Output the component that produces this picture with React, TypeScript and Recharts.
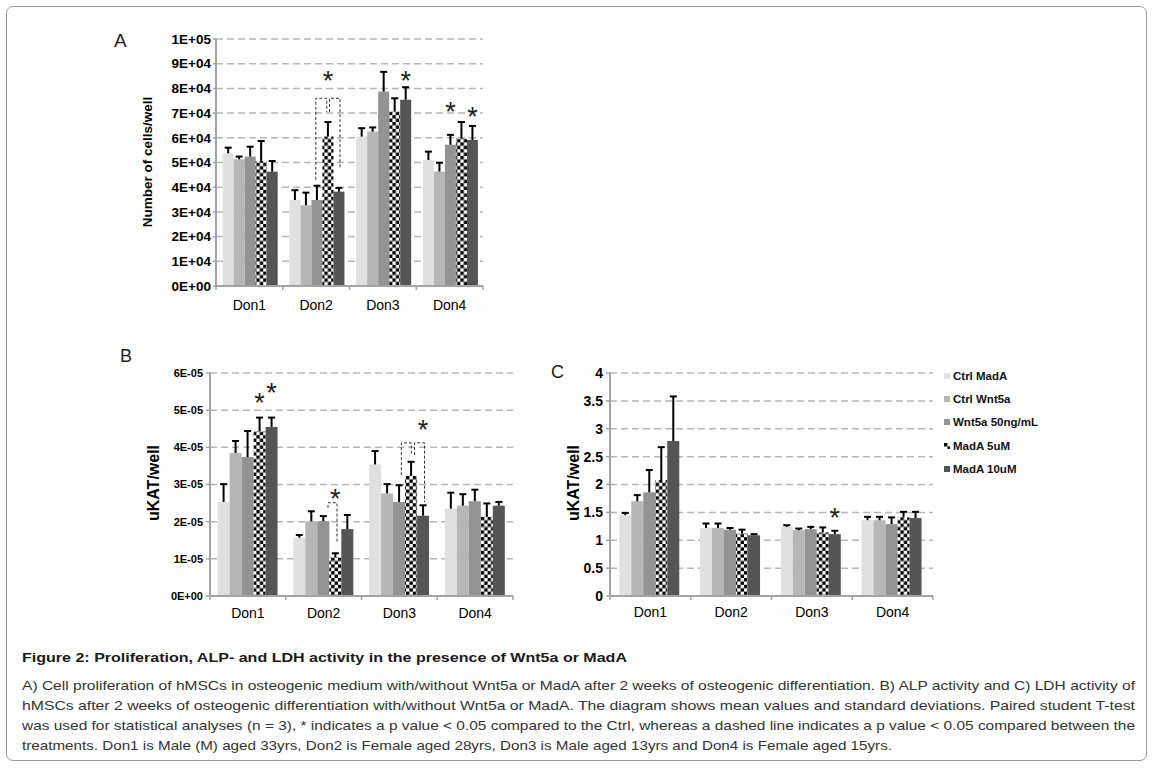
import React from 'react';
import { BarChart, Bar, XAxis, YAxis, CartesianGrid } from 'recharts';

const FONT = '"Liberation Sans", Arial, Helvetica, sans-serif';
const AXIS = '#a3a3a3';
const GRID = '#b5b5b5';

const categories = ['Don1', 'Don2', 'Don3', 'Don4'];
const seriesNames = ['Ctrl MadA', 'Ctrl Wnt5a', 'Wnt5a 50ng/mL', 'MadA 5uM', 'MadA 10uM'];
const seriesFills = ['#e0e0e0', '#b6b6b6', '#939393', 'url(#checker)', '#555555'];

// Panel A: Number of cells/well (mean, SD)
const cellsCtrlMadA = [53700, 34800, 60500, 51000];
const cellsCtrlWnt5a = [51300, 32700, 62500, 46300];
const cellsWnt5a50 = [52400, 34800, 78700, 57200];
const cellsMadA5 = [50600, 60500, 70600, 59800];
const cellsMadA10 = [46300, 38200, 75400, 59100];
const cellsCtrlMadASd = [2300, 4000, 3400, 3400];
const cellsCtrlWnt5aSd = [1100, 5100, 1700, 3600];
const cellsWnt5a50Sd = [4000, 5800, 8000, 4000];
const cellsMadA5Sd = [8100, 5900, 5400, 6600];
const cellsMadA10Sd = [4300, 1500, 5100, 5700];
const cellsTicks = [0, 10000, 20000, 30000, 40000, 50000, 60000, 70000, 80000, 90000, 100000];

// Panel B: ALP activity uKAT/well
const alpCtrlMadA = [2.53e-5, 1.57e-5, 3.54e-5, 2.35e-5];
const alpCtrlWnt5a = [3.85e-5, 2.01e-5, 2.76e-5, 2.43e-5];
const alpWnt5a50 = [3.74e-5, 2.01e-5, 2.53e-5, 2.55e-5];
const alpMadA5 = [4.43e-5, 1.04e-5, 3.23e-5, 2.13e-5];
const alpMadA10 = [4.55e-5, 1.8e-5, 2.16e-5, 2.43e-5];
const alpCtrlMadASd = [0.48e-5, 0.07e-5, 0.36e-5, 0.43e-5];
const alpCtrlWnt5aSd = [0.32e-5, 0.27e-5, 0.25e-5, 0.31e-5];
const alpWnt5a50Sd = [0.7e-5, 0.14e-5, 0.45e-5, 0.31e-5];
const alpMadA5Sd = [0.37e-5, 0.11e-5, 0.38e-5, 0.36e-5];
const alpMadA10Sd = [0.25e-5, 0.38e-5, 0.28e-5, 0.1e-5];
const alpTicks = [0, 1e-5, 2e-5, 3e-5, 4e-5, 5e-5, 6e-5];

// Panel C: LDH activity uKAT/well
const ldhCtrlMadA = [1.45, 1.22, 1.24, 1.36];
const ldhCtrlWnt5a = [1.7, 1.22, 1.18, 1.36];
const ldhWnt5a50 = [1.86, 1.19, 1.2, 1.29];
const ldhMadA5 = [2.08, 1.12, 1.14, 1.41];
const ldhMadA10 = [2.78, 1.09, 1.11, 1.4];
const ldhCtrlMadASd = [0.04, 0.08, 0.03, 0.06];
const ldhCtrlWnt5aSd = [0.11, 0.08, 0.03, 0.06];
const ldhWnt5a50Sd = [0.4, 0.03, 0.04, 0.12];
const ldhMadA5Sd = [0.59, 0.07, 0.09, 0.1];
const ldhMadA10Sd = [0.8, 0.02, 0.06, 0.11];
const ldhTicks = [0, 0.5, 1, 1.5, 2, 2.5, 3, 3.5, 4];

// significance marks: [category index, bar index, value]
const starsA = [[1, 3, 85500], [2, 4, 85500], [3, 2, 73300], [3, 4, 71000]];
const starsB = [[0, 3, 5.36e-5], [0, 4, 5.63e-5], [1, 3, 2.8e-5], [2, 4, 4.65e-5]];
const starsC = [[2, 4, 1.51]];
// dashed brackets: [category, from bar, to bar, top value, left end value, right end value]
const bracketsA = [[1, 1.9, 2.9, 76000, 43000, 70500], [1, 3.15, 4.1, 76000, 70500, 47600]];
const bracketsB = [[1, 2.39, 3.14, 2.51e-5, 2.37e-5, 1.46e-5], [2, 2.19, 3.02, 4.12e-5, 3.25e-5, 3.79e-5], [2, 3.29, 4.12, 4.12e-5, 3.79e-5, 2.53e-5]];
const bracketsC: number[][] = [];

function buildRows(means: number[][], sds: number[][]) {
  return categories.map((c, i) => {
    const r: any = { name: c };
    means.forEach((m, k) => {
      r['m' + k] = m[i];
      r['e' + k] = sds[k][i];
    });
    return r;
  });
}

const rowsA = buildRows(
  [cellsCtrlMadA, cellsCtrlWnt5a, cellsWnt5a50, cellsMadA5, cellsMadA10],
  [cellsCtrlMadASd, cellsCtrlWnt5aSd, cellsWnt5a50Sd, cellsMadA5Sd, cellsMadA10Sd]
);
const rowsB = buildRows(
  [alpCtrlMadA, alpCtrlWnt5a, alpWnt5a50, alpMadA5, alpMadA10],
  [alpCtrlMadASd, alpCtrlWnt5aSd, alpWnt5a50Sd, alpMadA5Sd, alpMadA10Sd]
);
const rowsC = buildRows(
  [ldhCtrlMadA, ldhCtrlWnt5a, ldhWnt5a50, ldhMadA5, ldhMadA10],
  [ldhCtrlMadASd, ldhCtrlWnt5aSd, ldhWnt5a50Sd, ldhMadA5Sd, ldhMadA10Sd]
);

const sci = (v: number) => {
  if (v === 0) return '0E+00';
  const e = Math.floor(Math.log10(v) + 1e-9);
  const m = Math.round(v / Math.pow(10, e));
  return `${m}E${e < 0 ? '-' : '+'}${String(Math.abs(e)).padStart(2, '0')}`;
};
const plain = (v: number) => String(v);

type PanelCfg = {
  left: number; top: number; width: number; height: number;
  margin: { top: number; right: number; bottom: number; left: number };
  yAxisWidth: number; rows: any[]; domain: [number, number]; ticks: number[];
  fmt: (v: number) => string; tickFont: number; tickSize: number; tickMargin: number;
  stars: number[][]; brackets: number[][]; labelOffset: number; gap: string;
};

function makeShape(k: number, cfg: PanelCfg) {
  const n = seriesNames.length;
  return (props: any) => {
    const { x, y, width, height, fill, payload, index } = props;
    const v = payload['m' + k];
    const sd = payload['e' + k];
    const ppu = height / v;
    const base = y + height;
    const toY = (val: number) => base - val * ppu;
    const cx = x + width / 2;
    const eTop = toY(v + sd);
    const extras: any[] = [];
    if (k === n - 1) {
      const center = (b: number) => x + width * (b - (n - 1)) + width / 2;
      cfg.brackets.filter((b) => b[0] === index).forEach((b, j) => {
        const lx = center(b[1]);
        const rx = center(b[2]);
        const ty = toY(b[3]);
        extras.push(
          <path key={'b' + j} d={`M${lx},${toY(b[4])}L${lx},${ty}L${rx},${ty}L${rx},${toY(b[5])}`}
            fill="none" stroke="#333" strokeWidth={1} strokeDasharray="3 2" />
        );
      });
      cfg.stars.filter((s) => s[0] === index).forEach((s, j) => {
        const fs = 27;
        extras.push(
          <text key={'s' + j} x={center(s[1])} y={toY(s[2]) + fs * 0.58} textAnchor="middle"
            fontSize={fs} fontFamily={FONT} fill="#222">*</text>
        );
      });
    }
    return (
      <g>
        <rect x={x} y={y} width={width} height={height} fill={fill} />
        <line x1={cx} y1={y} x2={cx} y2={eTop} stroke="#000" strokeWidth={2} />
        <line x1={cx - 3.5} x2={cx + 3.5} y1={eTop} y2={eTop} stroke="#000" strokeWidth={2} />
        {extras}
      </g>
    );
  };
}

function Panel({ cfg }: { cfg: PanelCfg }) {
  const plotW = cfg.width - cfg.margin.left - cfg.margin.right - cfg.yAxisWidth;
  const plotBottom = cfg.height - cfg.margin.bottom - 30;
  const band = plotW / categories.length;
  const renderTick = (props: any) => {
    const { x, payload, index } = props;
    return (
      <g>
        <line x1={x - band / 2} x2={x - band / 2} y1={plotBottom} y2={plotBottom + 4} stroke={AXIS} strokeWidth={1.5} />
        {index === categories.length - 1 && (
          <line x1={x + band / 2} x2={x + band / 2} y1={plotBottom} y2={plotBottom + 4} stroke={AXIS} strokeWidth={1.5} />
        )}
        <text x={x} y={plotBottom + cfg.labelOffset} textAnchor="middle" fontSize={14} fontFamily={FONT} fill="#000">
          {payload.value}
        </text>
      </g>
    );
  };
  return (
    <div style={{ position: 'absolute', left: cfg.left, top: cfg.top }}>
      <BarChart width={cfg.width} height={cfg.height} data={cfg.rows} margin={cfg.margin} barGap={0} barCategoryGap={cfg.gap}>
        <CartesianGrid vertical={false} stroke={GRID} strokeDasharray="7 4" strokeWidth={1.5} />
        <XAxis dataKey="name" height={30} axisLine={{ stroke: AXIS, strokeWidth: 2 }} tickLine={false} tick={renderTick} interval={0} />
        <YAxis width={cfg.yAxisWidth} domain={cfg.domain} ticks={cfg.ticks} tickFormatter={cfg.fmt} interval={0}
          axisLine={{ stroke: AXIS, strokeWidth: 2 }} tickLine={{ stroke: AXIS, strokeWidth: 1.5 }}
          tickSize={cfg.tickSize} tickMargin={cfg.tickMargin}
          tick={{ fill: '#000', fontSize: cfg.tickFont, fontWeight: 700, fontFamily: FONT }} />
        {seriesNames.map((name, k) => (
          <Bar key={name} name={name} dataKey={'m' + k} fill={seriesFills[k]} isAnimationActive={false} shape={makeShape(k, cfg)} />
        ))}
      </BarChart>
    </div>
  );
}

const cfgA: PanelCfg = {
  left: 100, top: 20, width: 400, height: 310, margin: { top: 19, right: 17, bottom: 14, left: 66 },
  yAxisWidth: 50, rows: rowsA, domain: [0, 100000], ticks: cellsTicks, fmt: sci, tickFont: 13.5,
  tickSize: 3, tickMargin: 2, stars: starsA, brackets: bracketsA, labelOffset: 24, gap: '10%',
};
const cfgB: PanelCfg = {
  left: 100, top: 340, width: 420, height: 300, margin: { top: 33, right: 7, bottom: 14, left: 60 },
  yAxisWidth: 50, rows: rowsB, domain: [0, 6e-5], ticks: alpTicks, fmt: sci, tickFont: 11,
  tickSize: 4, tickMargin: 3, stars: starsB, brackets: bracketsB, labelOffset: 22, gap: '10%',
};
const cfgC: PanelCfg = {
  left: 540, top: 340, width: 410, height: 300, margin: { top: 33, right: 17, bottom: 14, left: 30 },
  yAxisWidth: 40, rows: rowsC, domain: [0, 4], ticks: ldhTicks, fmt: plain, tickFont: 14,
  tickSize: 4, tickMargin: 3, stars: starsC, brackets: bracketsC, labelOffset: 21, gap: '11.5%',
};

const captionTitle = 'Figure 2: Proliferation, ALP- and LDH activity in the presence of Wnt5a or MadA';
const captionLines = [
  'A) Cell proliferation of hMSCs in osteogenic medium with/without Wnt5a or MadA after 2 weeks of osteogenic differentiation. B) ALP activity and C) LDH activity of',
  'hMSCs after 2 weeks of osteogenic differentiation with/without Wnt5a or MadA. The diagram shows mean values and standard deviations. Paired student T-test',
  'was used for statistical analyses (n = 3), * indicates a p value < 0.05 compared to the Ctrl, whereas a dashed line indicates a p value < 0.05 compared between the',
  'treatments. Don1 is Male (M) aged 33yrs, Don2 is Female aged 28yrs, Don3 is Male aged 13yrs and Don4 is Female aged 15yrs.',
];
const captionLineWidths = [1113, 1113, 1113, 870];

export default function App() {
  return (
    <div style={{ position: 'absolute', left: 0, top: 0, width: 1154, height: 769, background: '#fff', fontFamily: FONT, overflow: 'hidden' }}>
      <svg width={0} height={0} style={{ position: 'absolute' }}>
        <defs>
          <pattern id="checker" width={6.8} height={6.8} patternUnits="userSpaceOnUse">
            <rect width={6.8} height={6.8} fill="#fff" />
            <rect width={3.4} height={3.4} fill="#000" />
            <rect x={3.4} y={3.4} width={3.4} height={3.4} fill="#000" />
          </pattern>
        </defs>
      </svg>
      <div style={{ position: 'absolute', left: 6, top: 6, width: 1141, height: 755, border: '1px solid #9a9a9a', borderRadius: 7, boxSizing: 'border-box' }} />

      <svg width={1154} height={769} style={{ position: 'absolute', left: 0, top: 0 }}>
        <text x={114} y={47} fontSize={19} fontFamily={FONT} fill="#222">A</text>
        <text x={120} y={362} fontSize={18} fontFamily={FONT} fill="#222">B</text>
        <text x={551} y={378} fontSize={18} fontFamily={FONT} fill="#222">C</text>
        <text transform="translate(152,162) rotate(-90)" textAnchor="middle" fontSize={13.5} fontWeight={700} fontFamily={FONT} fill="#000">Number of cells/well</text>
        <text transform="translate(159,483) rotate(-90)" textAnchor="middle" fontSize={16} fontWeight={700} fontFamily={FONT} fill="#000">uKAT/well</text>
        <text transform="translate(579,483) rotate(-90)" textAnchor="middle" fontSize={16} fontWeight={700} fontFamily={FONT} fill="#000">uKAT/well</text>

        <text x={22} y={661.5} fontSize={13} fontWeight={700} fontFamily={FONT} fill="#1a1a1a"
          textLength={605} lengthAdjust="spacingAndGlyphs">{captionTitle}</text>
        {captionLines.map((line, i) => (
          <text key={i} x={22} y={689.5 + 20 * i} fontSize={13} fontFamily={FONT} fill="#333"
            textLength={captionLineWidths[i]} lengthAdjust="spacingAndGlyphs">{line}</text>
        ))}
      </svg>

      <Panel cfg={cfgA} />
      <Panel cfg={cfgB} />
      <Panel cfg={cfgC} />

      <div style={{ position: 'absolute', left: 944, top: 364 }}>
        {seriesNames.map((name, k) => (
          <div key={name} style={{ display: 'flex', alignItems: 'center', height: 23.3, fontSize: 11.5, fontWeight: 700, color: '#111' }}>
            <svg width={6} height={6} style={{ marginRight: 3 }}>
              <rect width={6} height={6} fill={seriesFills[k]} />
            </svg>
            <span>{name}</span>
          </div>
        ))}
      </div>
    </div>
  );
}
